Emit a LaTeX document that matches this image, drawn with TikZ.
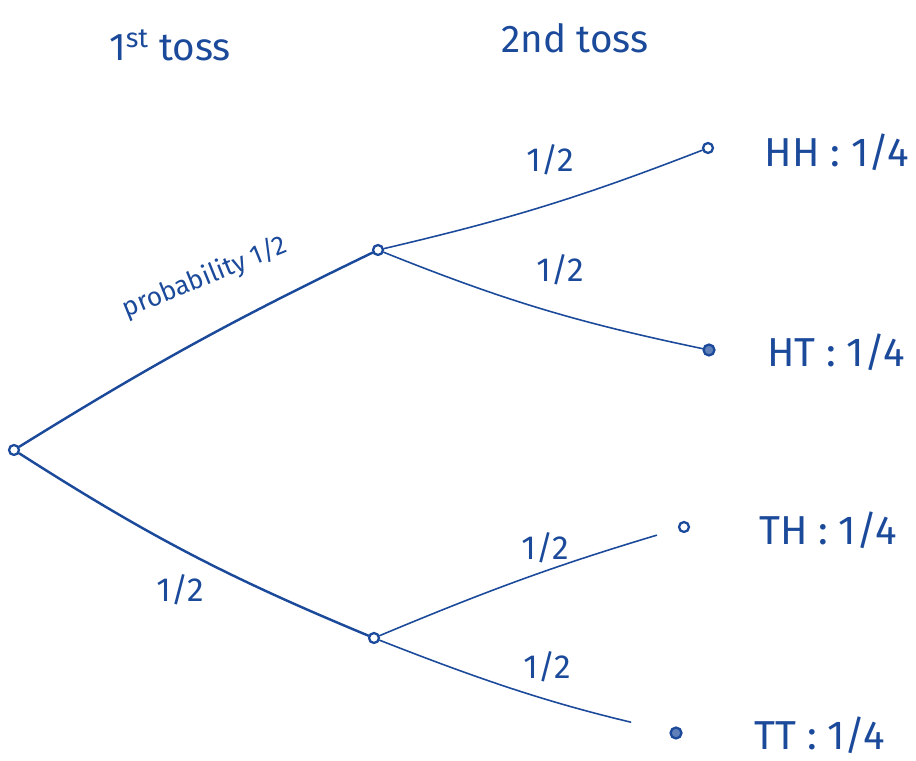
\documentclass[tikz,border=0pt]{standalone}
\usepackage{fontspec}
\setmainfont{Fira Sans}
\usepackage{tikz}
\usetikzlibrary{positioning,calc}
\definecolor{ink}{RGB}{28,74,155}
\tikzset{
  pt/.style={circle,draw=ink,fill=white,inner sep=2pt,line width=1.3pt},
  ptf/.style={circle,draw=ink,fill=ink!70,inner sep=2.2pt,line width=1.3pt},
  branch/.style={ink,line width=1.4pt,line cap=round},
  twig/.style={ink,line width=0.9pt,line cap=round},
  lbl/.style={text=ink,font=\fontsize{19}{20}\selectfont,inner sep=1pt},
  head/.style={text=ink,font=\fontsize{22}{24}\selectfont,inner sep=1pt},
  leaf/.style={text=ink,font=\fontsize{23}{26}\selectfont,inner sep=1pt},
}
\begin{document}
\begin{tikzpicture}
  \useasboundingbox (0,0) rectangle (18.32,-15.22);
  % column headings
  \node[head] (h1) at (3.4,-0.9) {1\textsuperscript{st} toss};
  \node[head] (h2) at (11.5,-0.76) {2nd toss};
  % tree points
  \node[pt] (root) at (0.28,-9.0) {};
  \node[pt] (H) at (7.56,-5.0) {};
  \node[pt] (T) at (7.48,-12.76) {};
  \node[pt] (HH) at (14.16,-2.96) {};
  \node[ptf] (HT) at (14.18,-7.0) {};
  \node[pt] (TH) at (13.68,-10.54) {};
  \node[ptf] (TT) at (13.52,-14.66) {};
  % first toss
  \draw[branch] (root) to[bend left=3] (H);
  \draw[branch] (root) to[bend right=5] (T);
  % second toss
  \draw[twig] (H) to[bend right=4] (HH);
  \draw[twig] (H) to[bend right=5] (HT);
  \draw[twig,shorten >=0.45cm] (T) to[bend left=3] (TH);
  \draw[twig,shorten >=0.8cm] (T) to[bend right=4] (TT);
  % branch probabilities
  \node[lbl,rotate=22,font=\fontsize{15}{16}\selectfont] (p0) at (4.1,-5.55) {probability 1/2};
  \node[lbl] (p1) at (3.6,-11.8) {1/2};
  \node[lbl] (p2) at (11.0,-3.2) {1/2};
  \node[lbl] (p3) at (11.2,-5.4) {1/2};
  \node[lbl] (p4) at (10.9,-10.96) {1/2};
  \node[lbl] (p5) at (10.94,-13.34) {1/2};
  % outcomes
  \node[leaf] (oHH) at (16.74,-3.04) {HH : 1/4};
  \node[leaf] (oHT) at (16.72,-7.04) {HT : 1/4};
  \node[leaf] (oTH) at (16.56,-10.6) {TH : 1/4};
  \node[leaf] (oTT) at (16.4,-14.7) {TT : 1/4};
\end{tikzpicture}
\end{document}
